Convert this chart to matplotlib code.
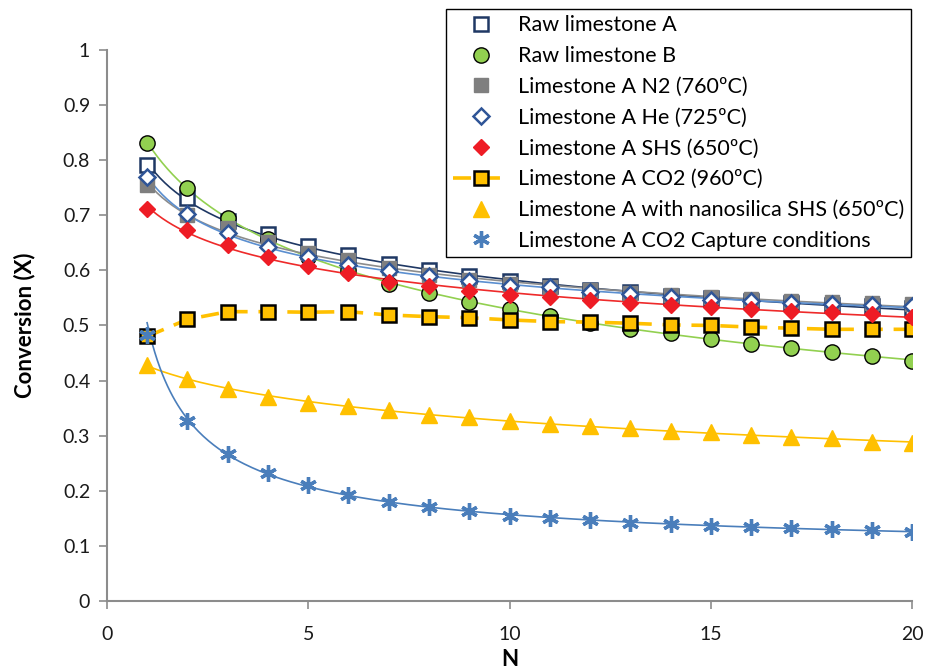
import numpy as np
import matplotlib
matplotlib.use('Agg')
import matplotlib.pyplot as plt
from matplotlib.ticker import FuncFormatter, MultipleLocator

plt.rcParams['font.family'] = ['Lato', 'DejaVu Sans']

# Cycle number
N = np.arange(1, 21)

# Conversion values
raw_a = [0.791, 0.731, 0.690, 0.666, 0.644, 0.628, 0.611, 0.600, 0.590, 0.580,
         0.572, 0.565, 0.560, 0.554, 0.549, 0.545, 0.541, 0.538, 0.535, 0.532]
raw_b = [0.832, 0.749, 0.695, 0.657, 0.625, 0.600, 0.575, 0.559, 0.543, 0.530,
         0.517, 0.505, 0.493, 0.486, 0.475, 0.466, 0.459, 0.451, 0.445, 0.436]
n2_760 = [0.755, 0.700, 0.677, 0.651, 0.631, 0.619, 0.604, 0.592, 0.582, 0.575,
          0.570, 0.564, 0.559, 0.555, 0.551, 0.548, 0.545, 0.543, 0.541, 0.539]
he_725 = [0.769, 0.702, 0.668, 0.642, 0.625, 0.610, 0.598, 0.590, 0.580, 0.572,
          0.569, 0.561, 0.557, 0.552, 0.547, 0.545, 0.541, 0.539, 0.537, 0.535]
shs_650 = [0.711, 0.673, 0.646, 0.625, 0.608, 0.595, 0.579, 0.572, 0.563, 0.556,
           0.551, 0.546, 0.541, 0.537, 0.533, 0.529, 0.527, 0.524, 0.521, 0.516]
co2_960 = [0.480, 0.511, 0.525, 0.525, 0.524, 0.525, 0.519, 0.516, 0.514, 0.510,
           0.507, 0.506, 0.504, 0.501, 0.500, 0.497, 0.495, 0.493, 0.493, 0.493]
nanosilica = [0.428, 0.403, 0.384, 0.371, 0.360, 0.353, 0.347, 0.338, 0.333, 0.327,
              0.321, 0.317, 0.314, 0.309, 0.306, 0.301, 0.298, 0.295, 0.289, 0.286]
capture = [0.483, 0.327, 0.267, 0.232, 0.210, 0.192, 0.179, 0.171, 0.163, 0.154,
           0.150, 0.147, 0.142, 0.140, 0.136, 0.134, 0.132, 0.130, 0.129, 0.126]

fig = plt.figure(figsize=(9.29, 6.72), dpi=100)
ax = fig.add_axes([0.115, 0.1057, 0.867, 0.82])

# trend lines (fitted in log-log space)
nn = np.linspace(1, 20, 300)
def trend(y, color, deg=2, skip=0):
    p = np.polyfit(np.log(N[skip:]), np.log(y[skip:]), deg)
    ax.plot(nn, np.exp(np.polyval(p, np.log(nn))), color=color, lw=1.2, zorder=2)

trend(raw_a, '#1F3864')
trend(raw_b, '#92D050')
trend(n2_760, '#8C8C8C')
trend(he_725, '#5B8FD0')
trend(shs_650, '#EE2A2A')
trend(nanosilica, '#FFC000')
trend(capture, '#4A7EBB', deg=2, skip=1)

ax.plot(N, raw_a, ls='none', marker='s', ms=10, mfc='white', mec='#1F3864', mew=1.8,
        label='Raw limestone A', zorder=3)
ax.plot(N, raw_b, ls='none', marker='o', ms=11, mfc='#92D050', mec='black', mew=1.0,
        label='Raw limestone B', zorder=3)
ax.plot(N, n2_760, ls='none', marker='s', ms=10, mfc='#7F7F7F', mec='#7F7F7F',
        label='Limestone A N2 (760ºC)', zorder=3)
ax.plot(N, he_725, ls='none', marker='D', ms=8.5, mfc='white', mec='#2F5597', mew=1.8,
        label='Limestone A He (725ºC)', zorder=4)
ax.plot(N, shs_650, ls='none', marker='D', ms=8.5, mfc='#EE1C25', mec='#EE1C25',
        label='Limestone A SHS (650ºC)', zorder=4)
ax.plot(N, co2_960, ls=(0, (5, 3)), lw=2.6, color='#FFC000', marker='s', ms=10,
        mfc='#FFC000', mec='black', mew=1.8, label='Limestone A CO2 (960ºC)', zorder=3)
ax.plot(N, nanosilica, ls='none', marker='^', ms=12, mfc='#FFC000', mec='#FFC000',
        label='Limestone A with nanosilica SHS (650ºC)', zorder=3)
ax.plot(N, capture, ls='none', marker=(6, 2, 0), ms=12, mec='#4A7EBB', mew=2.4,
        color='#4A7EBB', label='Limestone A CO2 Capture conditions', zorder=4)

ax.set_xlim(0, 20)
ax.set_ylim(0, 1)
ax.xaxis.set_major_locator(MultipleLocator(5))
ax.yaxis.set_major_locator(MultipleLocator(0.1))
ax.yaxis.set_major_formatter(FuncFormatter(lambda v, p: '%g' % round(v, 1)))

for s in ['top', 'right']:
    ax.spines[s].set_visible(False)
for s in ['left', 'bottom']:
    ax.spines[s].set_color('#8C8C8C')
    ax.spines[s].set_linewidth(1.5)
ax.tick_params(direction='out', length=6, width=1.2, color='#8C8C8C',
               labelsize=14, labelcolor='#1A1A1A', pad=6)
ax.tick_params(axis='x', pad=12)

ax.set_xlabel('N', fontsize=16, fontweight='bold', labelpad=4)
ax.set_ylabel('Conversion (X)', fontsize=16, fontweight='bold', labelpad=20)

leg = fig.legend(loc='upper right', bbox_to_anchor=(0.9806, 0.9866), fontsize=15.5,
                 frameon=True, fancybox=False, edgecolor='black', framealpha=1,
                 handlelength=2.6, handletextpad=0.45, labelspacing=0.5,
                 borderpad=0.3, borderaxespad=0)
leg.get_frame().set_linewidth(1.0)

fig.savefig('out.png', dpi=100)
